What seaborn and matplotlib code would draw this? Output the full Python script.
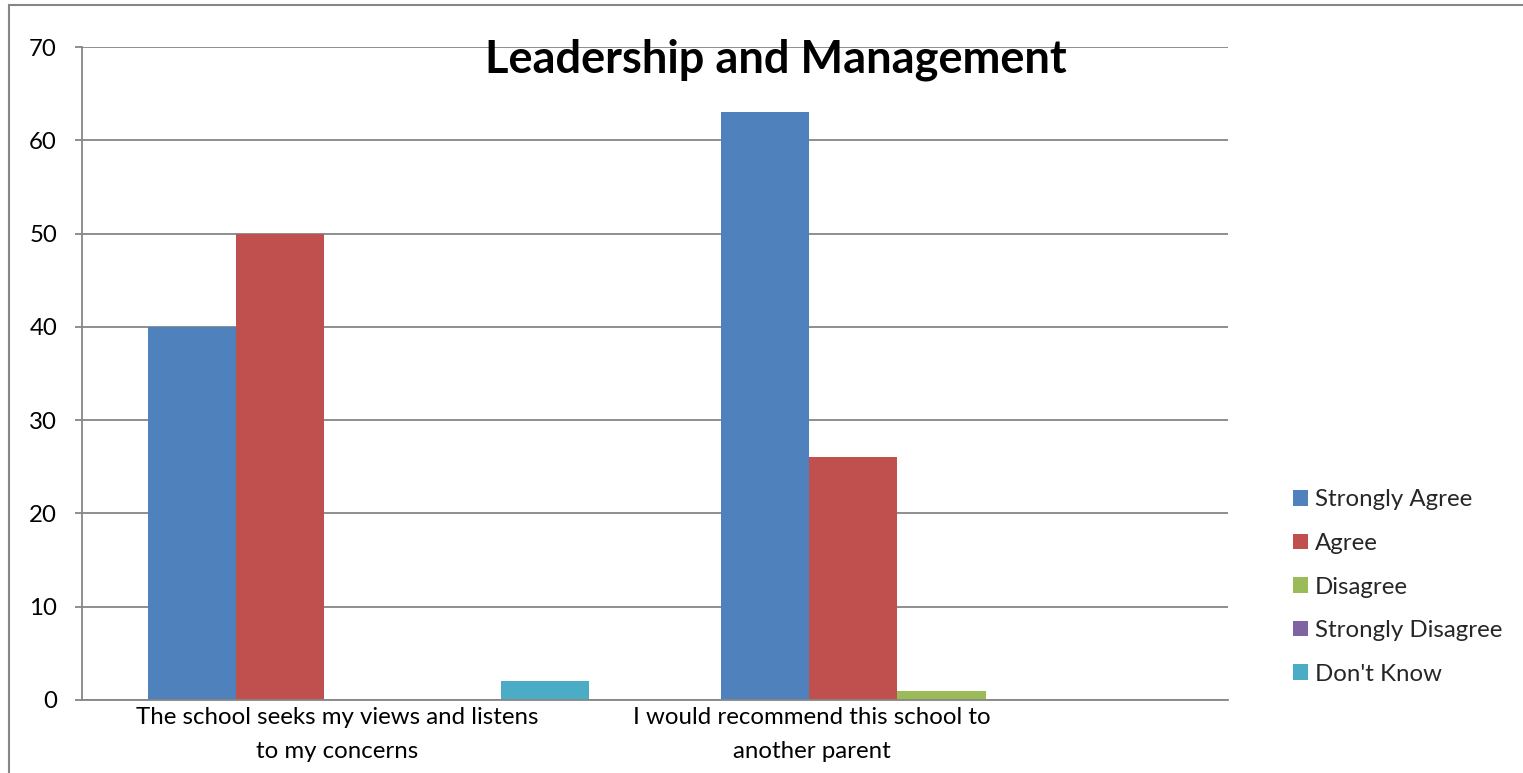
import matplotlib
matplotlib.use("Agg")
import matplotlib.pyplot as plt
import matplotlib.transforms as mtransforms
from matplotlib.patches import Rectangle
import seaborn as sns
import pandas as pd

categories = ["The school seeks my views and listens\nto my concerns",
              "I would recommend this school to\nanother parent"]
series = ["Strongly Agree", "Agree", "Disagree", "Strongly Disagree", "Don't Know"]
strongly_agree = [40, 63]
agree = [50, 26]
disagree = [0, 1]
strongly_disagree = [0, 0]
dont_know = [2, 0]
colors = ["#4F81BD", "#C0504D", "#9BBB59", "#8064A2", "#4BACC6"]
yticks = [0, 10, 20, 30, 40, 50, 60, 70]
title = "Leadership and Management"

values = [strongly_agree, agree, disagree, strongly_disagree, dont_know]
rows = []
for s, vals in zip(series, values):
    for c, v in zip(categories, vals):
        rows.append({"category": c, "series": s, "value": v})
df = pd.DataFrame(rows)

sns.set_theme(style="white")
plt.rcParams["font.family"] = ["Lato", "DejaVu Sans"]

fs = 17.3
fig = plt.figure(figsize=(15.23, 7.73), dpi=100)
ax = fig.add_axes([82/1523, 1-700/773, (1228-82)/1523, (700-47)/773])

sns.barplot(data=df, x="category", y="value", hue="series", hue_order=series,
            order=categories, palette=colors, width=0.768, linewidth=0,
            saturation=1, ax=ax, legend=True)

grid_c = "#868686"
ax.set_ylim(0, 70)
ax.set_yticks(yticks)
ax.set_yticklabels([str(t) for t in yticks], fontsize=fs, color="black")
ax.yaxis.grid(True, color=grid_c, linewidth=1.3)
ax.set_axisbelow(True)
ax.set_xlabel("")
ax.set_ylabel("")
for s in ["top", "right"]:
    ax.spines[s].set_visible(False)
for s in ["left", "bottom"]:
    ax.spines[s].set_color(grid_c)
    ax.spines[s].set_linewidth(1.3)
ax.tick_params(axis="y", length=5, width=1.3, color=grid_c, pad=13, left=True)
ax.tick_params(axis="x", length=0, pad=5)

offsets = [-31, -130]
for lbl, off in zip(ax.get_xticklabels(), offsets):
    lbl.set_fontsize(fs)
    lbl.set_linespacing(1.75)
    lbl.set_color("black")
    lbl.set_transform(lbl.get_transform() + mtransforms.ScaledTranslation(off/100, 0, fig.dpi_scale_trans))

handles, labels = ax.get_legend_handles_labels()
ax.get_legend().remove()
fig.legend(handles, labels, loc="center left", bbox_to_anchor=(1271/1523, 1-587/773),
           frameon=False, fontsize=fs, handlelength=0.62, handleheight=0.62,
           handletextpad=0.3, labelspacing=0.94)

fig.text(776/1523, 1-60/773, title, ha="center", va="center", fontsize=32.5,
         fontweight="bold", color="black")

fig.patches.append(Rectangle((8.5/1523, -0.05), 1.2, 1-5/773+0.05, transform=fig.transFigure,
                             fill=False, edgecolor=grid_c, linewidth=1.5))

fig.savefig("out.png", dpi=100)
